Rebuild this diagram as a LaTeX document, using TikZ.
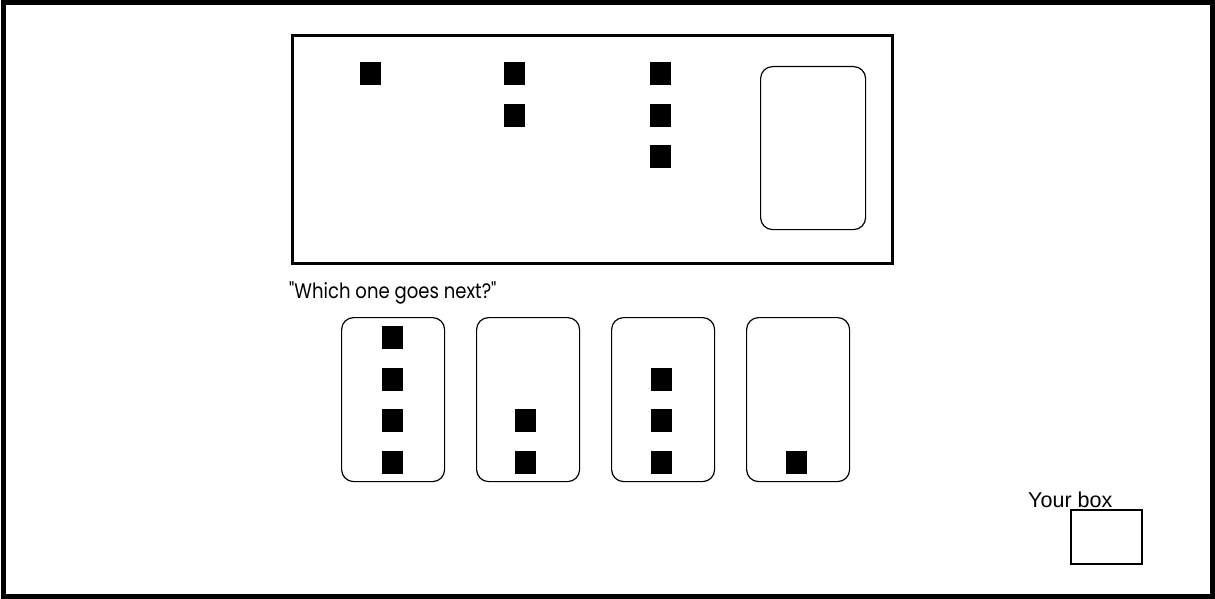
\documentclass[tikz,border=0pt]{standalone}
\usepackage{fontspec}
\setmainfont{Liberation Sans}
\newfontfamily\geofont{Poppins}
\begin{document}
\begin{tikzpicture}[x=1pt,y=-1pt,
  sq/.style={fill=black,draw=none,minimum width=21pt,minimum height=23pt,inner sep=0pt,anchor=north west},
  card/.style={draw=black,line width=1.2pt,rounded corners=12pt,minimum width=103pt,minimum height=164pt,inner sep=0pt,anchor=north west},
  frame/.style={draw=black,line width=3pt,inner sep=0pt,anchor=north west}]
\useasboundingbox (0,0) rectangle (1215,599);
% outer frame
\draw[line width=5pt] (3,2.5) rectangle (1212.5,596.5);
% top box
\node[frame,minimum width=600pt,minimum height=227pt] (top) at (290.5,34.5) {};
\node[sq] (a1) at (360,62) {};
\node[sq] (b1) at (504,62) {};
\node[sq] (b2) at (504,103.5) {};
\node[sq] (c1) at (650,62) {};
\node[sq] (c2) at (650,103.5) {};
\node[sq] (c3) at (650,145) {};
\node[card,minimum width=105pt,minimum height=163pt] (blank) at (760,66) {};
% question
\node[anchor=base west,inner sep=0pt,font=\geofont\fontsize{21}{24}\selectfont] (q) at (289,298) {\scalebox{0.86}[1]{"Which one goes next?"}};
% answer cards
\node[card] (k1) at (341,317) {};
\node[card] (k2) at (476,317) {};
\node[card] (k3) at (611,317) {};
\node[card] (k4) at (746,317) {};
\node[sq] (k1a) at (382,326) {};
\node[sq] (k1b) at (382,367.5) {};
\node[sq] (k1c) at (382,409) {};
\node[sq] (k1d) at (382,450.5) {};
\node[sq] (k2a) at (515,409) {};
\node[sq] (k2b) at (515,450.5) {};
\node[sq] (k3a) at (651,367.5) {};
\node[sq] (k3b) at (651,409) {};
\node[sq] (k3c) at (651,450.5) {};
\node[sq] (k4a) at (786,450.5) {};
% your box
\node[draw=black,line width=2pt,minimum width=71pt,minimum height=54pt,inner sep=0pt,anchor=north west] (yb) at (1070,509) {};
\node[anchor=base west,inner sep=0pt,font=\fontsize{21.5}{24}\selectfont] (yt) at (1028,507) {Your box};
\end{tikzpicture}
\end{document}
